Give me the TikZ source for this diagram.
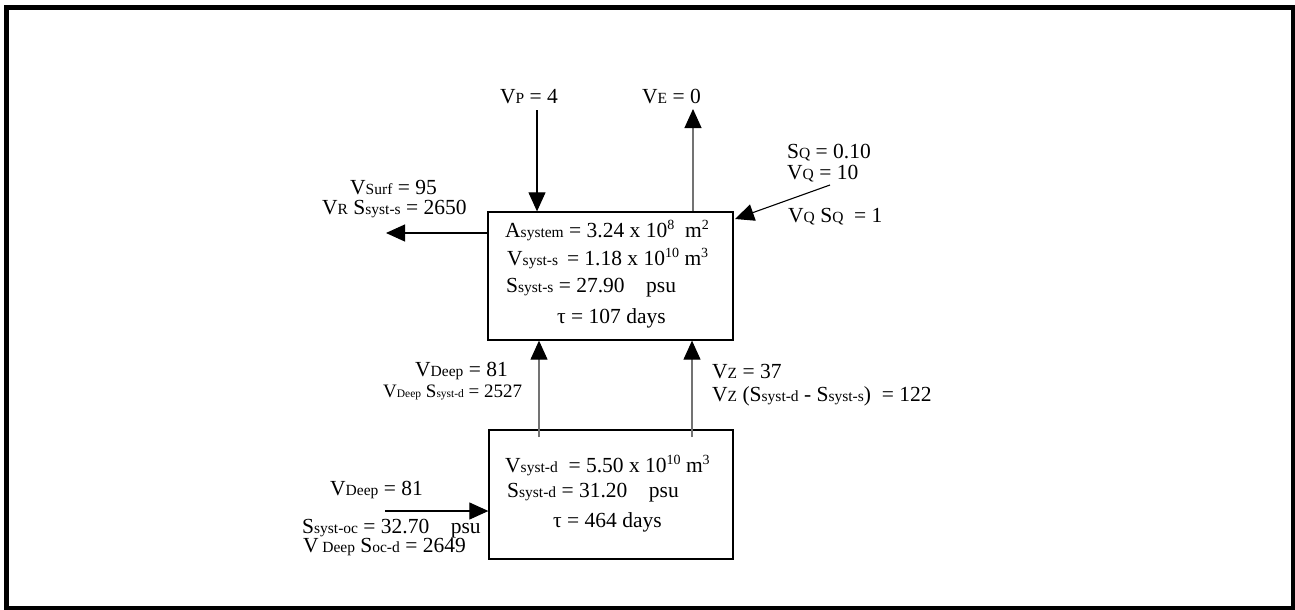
\documentclass[tikz,border=0pt]{standalone}
\usepackage{fontspec}
\setmainfont{Liberation Serif}
\usetikzlibrary{arrows.meta}
\newcommand\lo[1]{{\fontsize{15.5}{15.5}\selectfont #1}}
\newcommand\los[1]{{\fontsize{11.5}{11.5}\selectfont #1}}
\newcommand\hi[1]{\raisebox{0.8ex}{\fontsize{14}{14}\selectfont #1}}
\begin{document}
\begin{tikzpicture}[x=1pt,y=-1pt,
  lab/.style={anchor=base west, inner sep=0pt, font=\fontsize{21.5}{21.5}\selectfont},
  smalllab/.style={lab, font=\fontsize{19}{19}\selectfont},
  box/.style={draw, line width=1.3pt, minimum width=245pt, minimum height=128pt, inner sep=0pt},
  flow/.style={line width=1.1pt, -{Triangle[length=19pt,width=17pt]}},
  gflow/.style={line width=1.1pt, draw=black!55, -{Triangle[length=19pt,width=17pt,color=black]}},
]
\useasboundingbox (0,0) rectangle (1295,610);
\draw[line width=5pt] (6,8) rectangle (1293,608);

\node[box] (top) at (610.5,276) {};
\node[box, minimum width=244pt, minimum height=129pt] (bot) at (611,494.5) {};

\node[lab] (a1) at (505,237) {A\lo{system} = 3.24 x 10\hi{8}\enspace m\hi{2}};
\node[lab] (a2) at (507,265) {V\lo{syst-s}\ \,= 1.18 x 10\hi{10} m\hi{3}};
\node[lab] (a3) at (506,292) {S\lo{syst-s} = 27.90\quad psu};
\node[lab] (a4) at (557,323) {τ = 107 days};

\node[lab] (b1) at (505,472) {V\lo{syst-d}\ \ = 5.50 x 10\hi{10} m\hi{3}};
\node[lab] (b2) at (507,497) {S\lo{syst-d} = 31.20\quad psu};
\node[lab] (b3) at (553,527) {τ = 464 days};

\node[lab] (vp) at (500,103) {V\lo{P} = 4};
\node[lab] (ve) at (642,103) {V\lo{E} = 0};
\node[lab] (vs1) at (350,194) {V\lo{Surf} = 95};
\node[lab] (vs2) at (322,214) {V\lo{R} S\lo{syst-s} = 2650};
\node[lab] (q1) at (787,158) {S\lo{Q} = 0.10};
\node[lab] (q2) at (787,179) {V\lo{Q} = 10};
\node[lab] (q3) at (788,222) {V\lo{Q} S\lo{Q}\ \ = 1};
\node[lab] (d1) at (415,376) {V\lo{Deep} = 81};
\node[smalllab] (d2) at (383,397) {V\los{Deep} S\los{syst-d} = 2527};
\node[lab] (z1) at (712,378) {V\lo{Z} = 37};
\node[lab] (z2) at (712,401) {V\lo{Z} (S\lo{syst-d} - S\lo{syst-s})\ \ = 122};
\node[lab] (o1) at (330,495) {V\lo{Deep} = 81};
\node[lab] (o2) at (302,533) {S\lo{syst-oc} = 32.70\quad psu};
\node[lab] (o3) at (303,552) {V\,\lo{Deep} S\lo{oc-d} = 2649};

\coordinate (pS) at (537,110);
\draw[flow] (pS) -- (pS |- top.north);
\coordinate (eE) at (693,109);
\draw[gflow] (top.north -| eE) -- (eE);
\coordinate (qS) at (830,185);
\coordinate (qE) at (735,219);
\draw[flow] (qS) -- (qE);
\coordinate (sE) at (386,233);
\draw[flow] (top.west |- sE) -- (sE);
\coordinate (dS) at (539,437);
\draw[gflow] (dS) -- (dS |- top.south);
\coordinate (zS) at (692,437);
\draw[gflow] (zS) -- (zS |- top.south);
\coordinate (oS) at (385,511);
\draw[flow] (oS) -- (oS -| bot.west);
\end{tikzpicture}
\end{document}
